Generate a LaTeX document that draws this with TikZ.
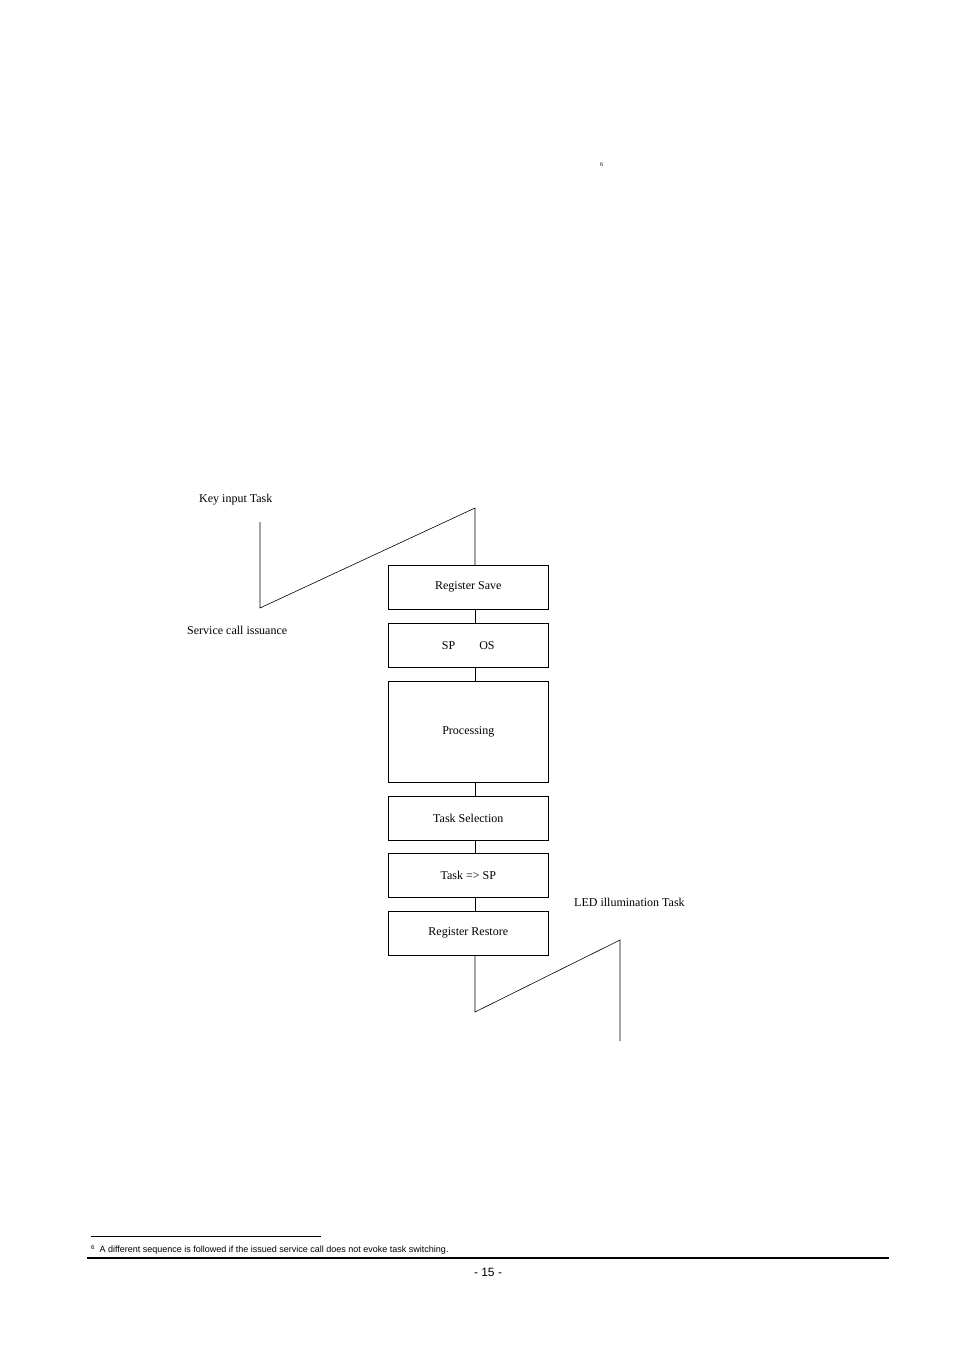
\documentclass[tikz,border=0pt]{standalone}
\usepackage{fontspec}
\setmainfont{Liberation Serif}
\newfontfamily\sansf{Liberation Sans}
\begin{document}
\begin{tikzpicture}[x=1pt,y=-1pt,
  box/.style={draw,line width=0.6pt,minimum width=160pt,anchor=north west,font=\fontsize{12}{14}\selectfont},
  lab/.style={font=\fontsize{12}{14}\selectfont,anchor=west,inner sep=0pt},
  ln/.style={line width=0.6pt}]
\useasboundingbox (0,0) rectangle (954,1350);
\node[lab,font=\fontsize{6}{7}\selectfont] (fn) at (600,165) {6};
\node[lab] (k) at (199,500) {Key input Task};
\node[lab] (s) at (187,630) {Service call issuance};
\node[lab] (l) at (574,902) {LED illumination Task};
\node[box,minimum height=44pt] (b1) at (388,565) {Register Save};
\node[box,minimum height=44pt] (b2) at (388,623) {SP\hspace{2em}OS};
\node[box,minimum height=101pt] (b3) at (388,681) {Processing};
\node[box,minimum height=44pt] (b4) at (388,796) {Task Selection};
\node[box,minimum height=44pt] (b5) at (388,853) {Task => SP};
\node[box,minimum height=44pt] (b6) at (388,911) {Register Restore};
\coordinate (a0) at (260,522); \coordinate (a1) at (260,608); \coordinate (a2) at (475,508);
\draw[ln] (a0) -- (a1) -- (a2) -- (a2 |- b1.north);
\foreach \u/\v in {b1/b2,b2/b3,b3/b4,b4/b5,b5/b6}
  \draw[ln] (\u.south -| a2) -- (\v.north -| a2);
\coordinate (c1) at (475,1012); \coordinate (c2) at (620,940); \coordinate (c3) at (620,1041);
\draw[ln] (b6.south -| a2) -- (c1) -- (c2) -- (c3);
\coordinate (f1) at (91,1236); \coordinate (f2) at (321,1236);
\draw[line width=0.6pt] (f1) -- (f2);
\node[lab,font=\sansf\fontsize{9}{10}\selectfont] (ft) at (91,1250) {\raisebox{0.6ex}{\fontsize{6}{7}\selectfont 6}\ \ A different sequence is followed if the issued service call does not evoke task switching.};
\coordinate (g1) at (87,1258); \coordinate (g2) at (889,1258);
\draw[line width=1.4pt] (g1) -- (g2);
\node[font=\sansf\fontsize{12}{14}\selectfont,inner sep=0pt] (pg) at (488,1272) {- 15 -};
\end{tikzpicture}
\end{document}
